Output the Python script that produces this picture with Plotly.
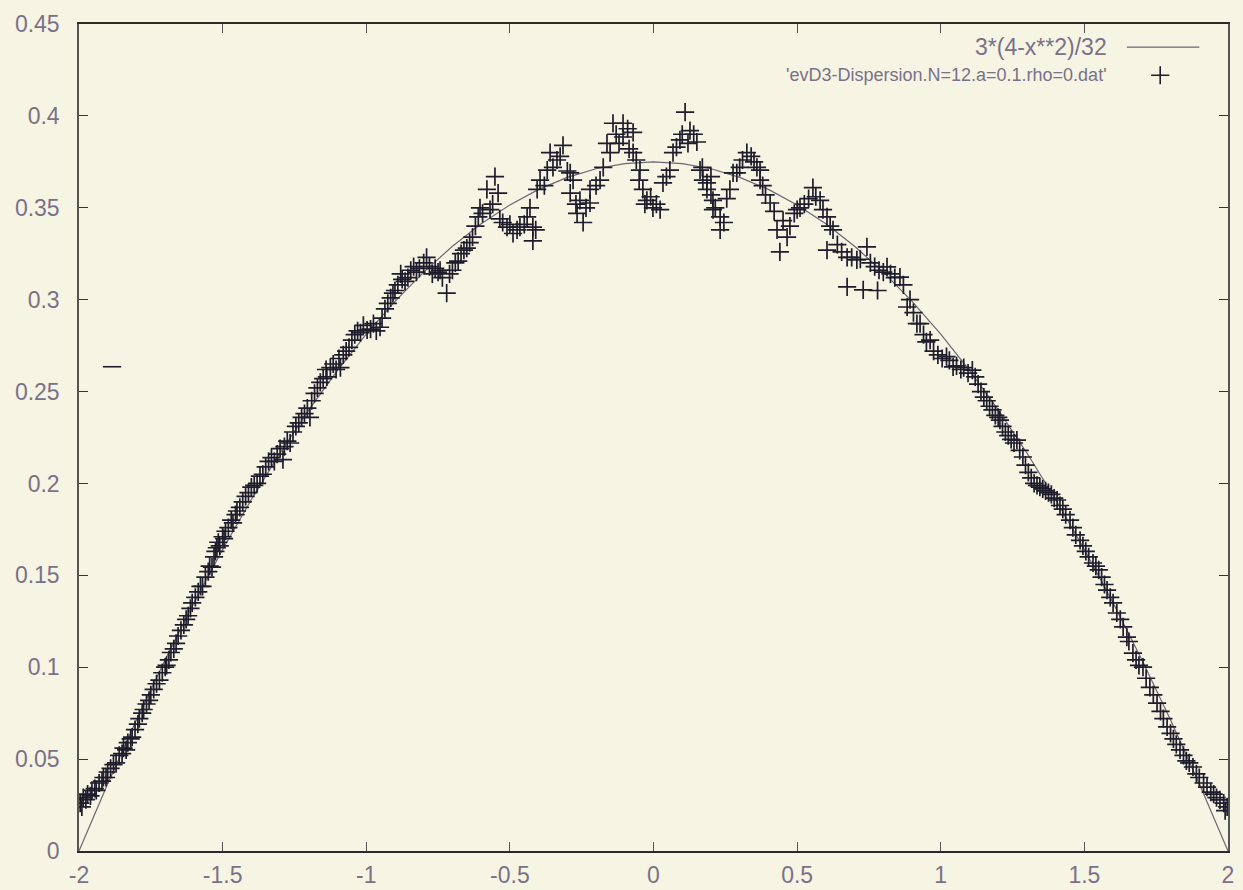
import plotly.graph_objects as go

# ---- data ----
curve_x = [-2.0, -1.9, -1.8, -1.7, -1.6, -1.5, -1.4, -1.3, -1.2, -1.1, -1.0,
           -0.9, -0.8, -0.7, -0.6, -0.5, -0.4, -0.3, -0.2, -0.1, 0.0,
           0.1, 0.2, 0.3, 0.4, 0.5, 0.6, 0.7, 0.8, 0.9, 1.0,
           1.1, 1.2, 1.3, 1.4, 1.5, 1.6, 1.7, 1.8, 1.9, 2.0]
curve_y = [0.0, 0.03656, 0.07125, 0.10406, 0.135, 0.16406, 0.19125, 0.21656, 0.24, 0.26156, 0.28125,
           0.29906, 0.315, 0.32906, 0.34125, 0.35156, 0.36, 0.36656, 0.37125, 0.37406, 0.375,
           0.37406, 0.37125, 0.36656, 0.36, 0.35156, 0.34125, 0.32906, 0.315, 0.29906, 0.28125,
           0.26156, 0.24, 0.21656, 0.19125, 0.16406, 0.135, 0.10406, 0.07125, 0.03656, 0.0]

pts_left_x = [-1.996, -1.99, -1.985, -1.976, -1.97, -1.96, -1.955, -1.945, -1.94, -1.93, -1.92, -1.915,
              -1.906, -1.9, -1.89, -1.88, -1.871, -1.86, -1.85, -1.845, -1.836, -1.83, -1.82, -1.815,
              -1.805, -1.795, -1.79, -1.78, -1.775, -1.765, -1.756, -1.75, -1.74, -1.73, -1.72, -1.71,
              -1.7, -1.695, -1.687, -1.68, -1.67, -1.662, -1.655, -1.645, -1.635, -1.627, -1.62, -1.612,
              -1.606, -1.595, -1.585, -1.577, -1.57, -1.56, -1.55, -1.545, -1.537,
              -1.53, -1.525, -1.52, -1.515, -1.51, -1.5, -1.495, -1.49, -1.48, -1.47, -1.464, -1.455,
              -1.45, -1.44, -1.43, -1.42, -1.41, -1.4, -1.39, -1.38, -1.37, -1.36, -1.35, -1.34, -1.33,
              -1.32, -1.31, -1.3, -1.29, -1.285, -1.275, -1.265, -1.255, -1.245, -1.235, -1.225, -1.215,
              -1.205, -1.196, -1.19, -1.18, -1.17, -1.16, -1.15, -1.14, -1.137, -1.125, -1.115, -1.105,
              -1.095, -1.09, -1.08, -1.07, -1.06, -1.05, -1.04, -1.03, -1.02, -1.01, -0.997]
pts_left_y = [0.026, 0.024, 0.029, 0.028, 0.031, 0.030, 0.033, 0.034, 0.033, 0.037, 0.038, 0.040,
              0.040, 0.043, 0.045, 0.047, 0.048, 0.052, 0.053, 0.056, 0.055, 0.059, 0.061, 0.062,
              0.066, 0.069, 0.072, 0.075, 0.077, 0.080, 0.082, 0.085, 0.088, 0.091, 0.093, 0.097,
              0.100, 0.101, 0.104, 0.108, 0.110, 0.113, 0.117, 0.120, 0.123, 0.126, 0.128, 0.132,
              0.135, 0.138, 0.141, 0.144, 0.144, 0.149, 0.152, 0.155, 0.1545,
              0.160, 0.163, 0.165, 0.168, 0.166, 0.171, 0.170, 0.174, 0.176, 0.180, 0.1785, 0.183,
              0.185, 0.187, 0.190, 0.193, 0.195, 0.198, 0.199, 0.200, 0.204, 0.205, 0.209, 0.212, 0.214,
              0.212, 0.216, 0.219, 0.213, 0.220, 0.223, 0.222, 0.228, 0.231, 0.233, 0.236, 0.238,
              0.241, 0.236, 0.245, 0.249, 0.252, 0.255, 0.257, 0.262, 0.258, 0.263, 0.265, 0.262,
              0.268, 0.263, 0.270, 0.272, 0.274, 0.278, 0.281, 0.283, 0.282, 0.286, 0.2835]

pts_mid_x = [-0.985, -0.975, -0.965, -0.952, -0.945, -0.935, -0.925, -0.915, -0.907, -0.9, -0.89, -0.88,
             -0.875, -0.865, -0.855, -0.845, -0.835, -0.825, -0.815, -0.8, -0.79, -0.78, -0.77, -0.76,
             -0.75, -0.743, -0.735, -0.72, -0.71, -0.7, -0.69, -0.68, -0.67, -0.66, -0.65, -0.64, -0.63,
             -0.62, -0.61, -0.604, -0.595, -0.58, -0.569, -0.56, -0.552, -0.541, -0.535, -0.525, -0.51,
             -0.5, -0.489, -0.475, -0.465, -0.45, -0.44, -0.43, -0.42, -0.42, -0.41,
             -0.405, -0.395, -0.38, -0.37, -0.36, -0.35, -0.336, -0.325, -0.315, -0.3, -0.29, -0.29,
             -0.28, -0.27, -0.266, -0.256, -0.245, -0.235, -0.221, -0.221, -0.2, -0.186, -0.175, -0.162,
             -0.151, -0.141, -0.13, -0.12, -0.106, -0.106, -0.09, -0.085, -0.071, -0.071, -0.06, -0.05,
             -0.047, -0.037, -0.03, -0.023, -0.01, -0.002, 0.01, 0.023, 0.033, 0.045, 0.057, 0.068,
             0.08, 0.092, 0.1, 0.11, 0.12, 0.127, 0.14, 0.151, 0.162, 0.17, 0.172, 0.186, 0.186, 0.2,
             0.2, 0.207, 0.207, 0.215, 0.232, 0.232, 0.245, 0.255, 0.266, 0.277, 0.29]
pts_mid_y = [0.284, 0.287, 0.283, 0.285, 0.290, 0.295, 0.298, 0.301, 0.3036, 0.305, 0.308, 0.314,
             0.311, 0.310, 0.312, 0.316, 0.318, 0.315, 0.317, 0.320, 0.323, 0.318, 0.314, 0.317,
             0.315, 0.316, 0.312, 0.3036, 0.314, 0.316, 0.320, 0.321, 0.325, 0.327, 0.328, 0.331, 0.334,
             0.340, 0.345, 0.350, 0.347, 0.360, 0.349, 0.352, 0.367, 0.358, 0.344, 0.342, 0.3395,
             0.341, 0.336, 0.338, 0.3395, 0.341, 0.345, 0.350, 0.3395, 0.332, 0.338,
             0.360, 0.365, 0.362, 0.3705, 0.380, 0.372, 0.376, 0.378, 0.384, 0.370, 0.369, 0.358,
             0.365, 0.352, 0.347, 0.354, 0.342, 0.350, 0.360, 0.3526, 0.362, 0.365, 0.372, 0.385,
             0.380, 0.396, 0.390, 0.385, 0.396, 0.3885, 0.393, 0.382, 0.391, 0.380, 0.376, 0.365,
             0.3705, 0.360, 0.352, 0.354, 0.356, 0.350, 0.352, 0.349, 0.3635, 0.367, 0.3705, 0.380,
             0.383, 0.387, 0.390, 0.402, 0.385, 0.392, 0.390, 0.3858, 0.3705, 0.372, 0.365, 0.360, 0.3635, 0.357,
             0.367, 0.354, 0.349, 0.350, 0.345, 0.338, 0.342, 0.355, 0.360, 0.369, 0.369]

pts_right_x = [0.3, 0.31, 0.325, 0.34, 0.35, 0.36, 0.371, 0.371, 0.38, 0.39, 0.406, 0.42, 0.43, 0.44,
               0.451, 0.465, 0.475, 0.49, 0.5, 0.51, 0.525, 0.54, 0.555, 0.565, 0.58, 0.59, 0.604, 0.604,
               0.615, 0.625, 0.64, 0.655, 0.674, 0.674, 0.69, 0.708, 0.72, 0.73, 0.743, 0.755, 0.77,
               0.78, 0.785, 0.8, 0.813, 0.825, 0.84, 0.858, 0.87, 0.883, 0.893, 0.905, 0.917, 0.928,
               0.94, 0.95, 0.963, 0.975, 0.99, 1.005, 1.02, 1.03, 1.043,
               1.055, 1.07, 1.08, 1.095, 1.11, 1.12, 1.13, 1.14, 1.15, 1.16, 1.17, 1.18, 1.19, 1.2,
               1.206, 1.215, 1.225, 1.235, 1.245, 1.255, 1.265, 1.275, 1.286, 1.295, 1.305, 1.315,
               1.325, 1.335, 1.345, 1.355, 1.365, 1.375, 1.385, 1.395, 1.405, 1.415, 1.425, 1.435,
               1.45, 1.46, 1.47, 1.485, 1.495, 1.505, 1.515, 1.53, 1.54,
               1.55, 1.56, 1.57, 1.579, 1.59, 1.6, 1.613, 1.625, 1.635, 1.648, 1.655, 1.669, 1.68, 1.69,
               1.704, 1.715, 1.728, 1.74, 1.753, 1.765, 1.775, 1.788, 1.8, 1.81, 1.82, 1.833, 1.845,
               1.855, 1.865, 1.878, 1.89, 1.9, 1.915, 1.927, 1.94, 1.95, 1.96, 1.972, 1.985, 1.997, 1.99]
pts_right_y = [0.372, 0.376, 0.380, 0.378, 0.375, 0.372, 0.3705, 0.365, 0.362, 0.357, 0.3526, 0.348, 0.338, 0.326,
               0.343, 0.334, 0.340, 0.347, 0.349, 0.350, 0.352, 0.355, 0.361, 0.356, 0.354, 0.349, 0.345, 0.327,
               0.340, 0.338, 0.330, 0.326, 0.323, 0.307, 0.323, 0.3216, 0.322, 0.3053, 0.3287, 0.320, 0.318,
               0.305, 0.316, 0.315, 0.3178, 0.314, 0.312, 0.3123, 0.308, 0.296, 0.300, 0.293, 0.287, 0.287,
               0.281, 0.277, 0.278, 0.272, 0.270, 0.268, 0.269, 0.267, 0.2634,
               0.264, 0.262, 0.263, 0.260, 0.2617, 0.258, 0.254, 0.250, 0.247, 0.245, 0.242, 0.240, 0.237, 0.236,
               0.2345, 0.231, 0.228, 0.226, 0.224, 0.222, 0.2236, 0.218, 0.2144, 0.210, 0.206, 0.203,
               0.200, 0.199, 0.198, 0.197, 0.196, 0.195, 0.194, 0.192, 0.191, 0.188, 0.186, 0.183,
               0.180, 0.176, 0.172, 0.169, 0.166, 0.163, 0.160, 0.1567, 0.155,
               0.153, 0.149, 0.145, 0.142, 0.138, 0.135, 0.1295, 0.126, 0.122, 0.1164, 0.114, 0.1077, 0.104, 0.101,
               0.100, 0.094, 0.089, 0.085, 0.0805, 0.076, 0.072, 0.0675, 0.064, 0.061, 0.058, 0.055, 0.052,
               0.049, 0.048, 0.0457, 0.042, 0.040, 0.037, 0.0348, 0.032, 0.031, 0.029, 0.0278, 0.026, 0.024, 0.022]

stray_x = [-1.885]
stray_y = [0.2635]

x_ticks = [-2, -1.5, -1, -0.5, 0, 0.5, 1, 1.5, 2]
x_tick_labels = ["-2", "-1.5", "-1", "-0.5", "0", "0.5", "1", "1.5", "2"]
y_ticks = [0, 0.05, 0.1, 0.15, 0.2, 0.25, 0.3, 0.35, 0.4, 0.45]
y_tick_labels = ["0", "0.05", "0.1", "0.15", "0.2", "0.25", "0.3", "0.35", "0.4", "0.45"]

label_curve = "3*(4-x**2)/32"
label_data = "'evD3-Dispersion.N=12.a=0.1.rho=0.dat'"

# ---- styles ----
BG = "#f6f4e3"
TXT = "#7a7189"
MARK = "#1f1d2c"
LINE = "#6d6672"
FONT = "Liberation Sans, Arial, sans-serif"

data_x = pts_left_x + pts_mid_x + pts_right_x
data_y = pts_left_y + pts_mid_y + pts_right_y

fig = go.Figure()
fig.add_trace(go.Scatter(x=curve_x, y=curve_y, mode="lines", line=dict(color=LINE, width=1.2),
                         name=label_curve, showlegend=False))
fig.add_trace(go.Scatter(x=data_x, y=data_y, mode="markers", name=label_data, showlegend=False,
                         marker=dict(symbol="cross-thin", size=13, line=dict(color=MARK, width=1.7))))
fig.add_trace(go.Scatter(x=stray_x, y=stray_y, mode="markers", showlegend=False,
                         marker=dict(symbol="line-ew", size=13, line=dict(color=MARK, width=1.6))))

# key samples (gnuplot-style key: text then sample) on an overlay axis in [0,1]
fig.add_trace(go.Scatter(x=[0.912, 0.975], y=[0.972, 0.972], mode="lines", xaxis="x2", yaxis="y2",
                         line=dict(color=LINE, width=1.2), showlegend=False, hoverinfo="skip"))
fig.add_trace(go.Scatter(x=[0.941], y=[0.938], mode="markers", xaxis="x2", yaxis="y2",
                         marker=dict(symbol="cross-thin", size=13, line=dict(color=MARK, width=1.6)),
                         showlegend=False, hoverinfo="skip"))

fig.add_annotation(x=0.896, y=0.972, xref="x2", yref="y2", text=label_curve, showarrow=False,
                   xanchor="right", yanchor="middle", font=dict(family=FONT, size=23, color=TXT))
fig.add_annotation(x=0.896, y=0.938, xref="x2", yref="y2", text=label_data, showarrow=False,
                   xanchor="right", yanchor="middle", font=dict(family=FONT, size=18, color=TXT))

fig.update_layout(
    width=1243, height=890,
    margin=dict(l=79, r=15, t=24, b=39, autoexpand=False),
    paper_bgcolor=BG, plot_bgcolor=BG,
    font=dict(family=FONT, size=23, color=TXT),
    xaxis=dict(range=[-2, 2], tickvals=x_ticks, ticktext=x_tick_labels, showgrid=False, zeroline=False,
               showline=True, linecolor="#2a2a2a", linewidth=1.5, mirror="ticks", ticks="inside",
               ticklen=9, tickcolor="#555", tickwidth=1.2, tickfont=dict(size=23, color=TXT),
               ticklabelstandoff=3, automargin=False),
    yaxis=dict(range=[0, 0.45], tickvals=y_ticks, ticktext=y_tick_labels, showgrid=False, zeroline=False,
               showline=True, linecolor="#555", linewidth=1.5, mirror="ticks", ticks="inside",
               ticklen=9, tickcolor="#333", tickwidth=1.2, tickfont=dict(size=23, color=TXT),
               ticklabelstandoff=13, automargin=False),
    xaxis2=dict(range=[0, 1], overlaying="x", visible=False, fixedrange=True),
    yaxis2=dict(range=[0, 1], overlaying="y", visible=False, fixedrange=True),
)

fig.write_html("out.html", config={"displayModeBar": False},
               post_script="document.body.style.margin='0';document.body.style.background='#f6f4e3';")
